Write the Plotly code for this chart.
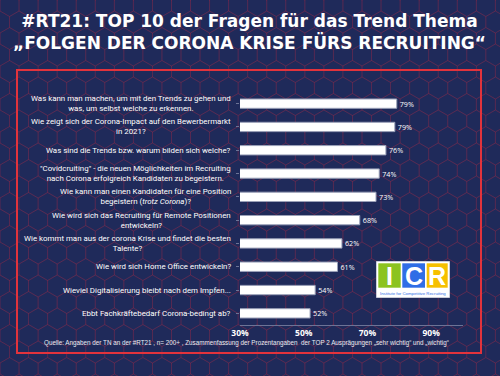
import math
import plotly.graph_objects as go

questions = [
    "Was kann man machen, um mit den Trends zu gehen und<br>was, um selbst welche zu erkennen.",
    "Wie zeigt sich der Corona-Impact auf den Bewerbermarkt<br>in 2021?",
    "Was sind die Trends bzw. warum bilden sich welche?",
    "\"Covidcruiting\" - die neuen Möglichkeiten im Recruiting<br>nach Corona erfolgreich Kandidaten zu begeistern.",
    "Wie kann man einen Kandidaten für eine Position<br>begeistern (<i>trotz Corona</i>)?",
    "Wie wird sich das Recruiting für Remote Positionen<br>entwickeln?",
    "Wie kommt man aus der corona Krise und findet die besten<br>Talente?",
    "Wie wird sich Home Office entwickeln?",
    "Wieviel Digitalisierung bleibt nach dem Impfen...",
    "Ebbt Fachkräftebedarf Corona-bedingt ab?",
]
values = [79.2, 78.6, 75.8, 73.7, 72.7, 67.6, 62.0, 60.6, 53.6, 52.0]
value_labels = ["79%", "79%", "76%", "74%", "73%", "68%", "62%", "61%", "54%", "52%"]
tick_vals = [30, 50, 70, 90]
tick_text = ["30%", "50%", "70%", "90%"]

title1 = "#RT21: TOP 10 der Fragen für das Trend Thema"
title2 = "„FOLGEN DER CORONA KRISE FÜRS RECRUITING“"
source = ("Quelle: Angaben der TN an der #RT21 , n= 200+ , Zusammenfassung der Prozentangaben  "
          "der TOP 2 Ausprägungen „sehr wichtig“ und „wichtig“")

BG = "#1f2a5a"
RED = "#e2333c"
FONT = "Open Sans"
LABEL_FONT = "Roboto"
TITLE_FONT = "DejaVu Sans"

ids = list(range(len(questions)))


def px(p):
    return (p - 240) / 223


def py(p):
    return (325 - p) / 233


fig = go.Figure()
fig.add_trace(go.Bar(
    y=ids, x=values, orientation="h", base=0,
    marker=dict(color="white", line=dict(color="#9aa0b8", width=1)),
    width=0.4,
    text=value_labels, textposition="outside", cliponaxis=False,
    textfont=dict(color="white", size=8.5, family=FONT),
    hoverinfo="skip",
))

annotations = []
for i, q in enumerate(questions):
    annotations.append(dict(
        x=px(233), xref="paper", y=i, yref="y", text=q, showarrow=False,
        xanchor="right", yanchor="middle", align="center",
        font=dict(color="white", size=7.9, family=LABEL_FONT),
    ))

annotations += [
    dict(x=px(249), xref="paper", y=py(32), yref="paper",
         text=f"<b>{title1}</b><br><b>{title2}</b>", showarrow=False, align="center",
         font=dict(color="white", size=17, family=TITLE_FONT), xanchor="center", yanchor="middle"),
    dict(x=px(246.5), xref="paper", y=py(343), yref="paper", text=source,
         showarrow=False, font=dict(color="#e8eaf2", size=6.3, family="Liberation Sans"),
         xanchor="center", yanchor="middle"),
]

# decorative hexagon background texture
r = 11.0
w = math.sqrt(3) * r
segs = []
row = 0
yc = -r
while yc < 376 + r:
    xoff = 0 if row % 2 == 0 else w / 2
    xc = -w + xoff
    while xc < 500 + w:
        pts = []
        for k in range(6):
            ang = math.radians(60 * k + 30)
            pts.append((xc + r * math.cos(ang), yc + r * math.sin(ang)))
        s = "M{:.4f},{:.4f}".format(px(pts[0][0]), py(pts[0][1]))
        for (a, b) in pts[1:]:
            s += "L{:.4f},{:.4f}".format(px(a), py(b))
        s += "Z"
        segs.append(s)
        xc += w
    yc += 1.5 * r
    row += 1

shapes = [
    dict(type="path", xref="paper", yref="paper", path="".join(segs),
         line=dict(color="rgba(190,45,70,0.25)", width=0.8), layer="below"),
    dict(type="rect", xref="paper", yref="paper", x0=px(17), x1=px(481), y0=py(353), y1=py(70),
         line=dict(color=RED, width=2), layer="below"),
    # logo
    dict(type="rect", xref="paper", yref="paper", x0=px(376.5), x1=px(449.5), y0=py(297.5), y1=py(261.5),
         fillcolor="white", line=dict(color="#c8cbd8", width=1)),
    dict(type="rect", xref="paper", yref="paper", x0=px(378.3), x1=px(400.7), y0=py(287.7), y1=py(263.3),
         fillcolor="#8cc31f", line=dict(width=0)),
    dict(type="rect", xref="paper", yref="paper", x0=px(402.3), x1=px(425), y0=py(287.7), y1=py(263.3),
         fillcolor="#2f6de6", line=dict(width=0)),
    dict(type="rect", xref="paper", yref="paper", x0=px(426.7), x1=px(447.7), y0=py(287.7), y1=py(263.3),
         fillcolor="#f6c000", line=dict(width=0)),
]
for letter, cx in [("I", 389.5), ("C", 413.6), ("R", 437.2)]:
    annotations.append(dict(x=px(cx), xref="paper", y=py(276), yref="paper", text=f"<b>{letter}</b>",
                            showarrow=False, font=dict(color="white", size=25, family="Liberation Sans"),
                            xanchor="center", yanchor="middle"))
annotations.append(dict(x=px(413), xref="paper", y=py(293), yref="paper",
                        text="Institute for Competitive Recruiting", showarrow=False,
                        font=dict(color="#2f6de6", size=4.3, family="Liberation Sans"),
                        xanchor="center", yanchor="middle"))

fig.update_layout(
    width=500, height=376,
    margin=dict(l=240, r=37, t=92, b=51),
    paper_bgcolor=BG, plot_bgcolor="rgba(0,0,0,0)",
    showlegend=False,
    annotations=annotations,
    shapes=shapes,
    xaxis=dict(range=[30, 100], tickvals=tick_vals, ticktext=tick_text, showgrid=False, zeroline=False,
               showline=True, linecolor="#6c7396", linewidth=1, ticks="",
               tickfont=dict(color="white", size=8.5, family=FONT, weight="bold"), fixedrange=True),
    yaxis=dict(range=[9.5, -0.5], showticklabels=False, showgrid=False, zeroline=False,
               ticks="outside", tickson="boundaries", ticklen=3, tickcolor="#6c7396",
               tickvals=ids, showline=False, fixedrange=True),
)

fig.write_html("out.html", config={"displayModeBar": False},
               post_script="document.body.style.margin='0';")
